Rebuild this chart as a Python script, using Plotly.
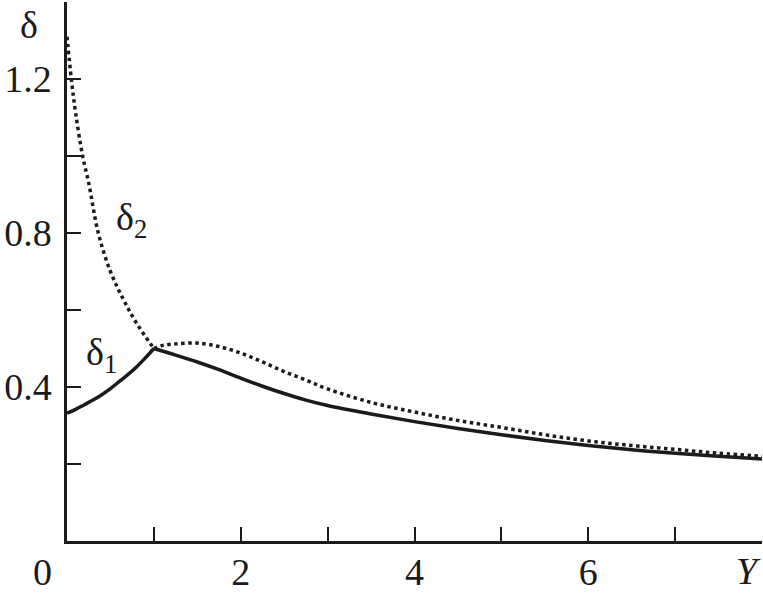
import plotly.graph_objects as go

# delta_1 (solid)
d1_x = [0, 0.1, 0.2, 0.3, 0.4, 0.5, 0.6, 0.7, 0.8, 0.9, 1.0, 1.25, 1.5, 1.75, 2.0,
        2.25, 2.5, 2.75, 3.0, 3.5, 4.0, 4.5, 5.0, 5.5, 6.0, 6.5, 7.0, 7.5, 8.0]
d1_y = [0.332, 0.342, 0.354, 0.366, 0.38, 0.396, 0.414, 0.432, 0.452, 0.475, 0.50,
        0.483, 0.465, 0.445, 0.423, 0.402, 0.383, 0.366, 0.352, 0.33, 0.31, 0.292,
        0.276, 0.261, 0.248, 0.237, 0.228, 0.22, 0.213]

# delta_2 (dotted)
d2_x = [0, 0.05, 0.1, 0.18, 0.25, 0.36, 0.5, 0.65, 0.8, 1.0, 1.1, 1.25, 1.5, 1.75,
        2.0, 2.25, 2.5, 2.75, 3.0, 3.5, 4.0, 4.5, 5.0, 5.5, 6.0, 6.5, 7.0, 7.5, 8.0]
d2_y = [1.31, 1.2, 1.11, 1.0, 0.93, 0.80, 0.70, 0.627, 0.566, 0.50, 0.508, 0.512,
        0.514, 0.505, 0.488, 0.465, 0.44, 0.418, 0.395, 0.36, 0.335, 0.313, 0.295,
        0.276, 0.26, 0.248, 0.238, 0.228, 0.22]

x_tickvals = [0, 1, 2, 3, 4, 5, 6, 7, 8]
x_ticktext = ["", "", "2", "", "4", "", "6", "", ""]
y_tickvals = [0.2, 0.4, 0.6, 0.8, 1.0, 1.2, 1.4]
y_ticktext = ["", "0.4", "", "0.8", "", "1.2", ""]

ink = "#1c1a1b"
font = dict(family="Liberation Serif, Times New Roman, serif", size=38, color=ink)

# split each curve at the cusp (x = 1) so the kink stays sharp
k1 = d1_x.index(1.0)
k2 = d2_x.index(1.0)

fig = go.Figure()
for xs, ys in [(d1_x[:k1 + 1], d1_y[:k1 + 1]), (d1_x[k1:], d1_y[k1:])]:
    fig.add_trace(go.Scatter(x=xs, y=ys, mode="lines",
                             line=dict(color=ink, width=3.5, shape="spline", smoothing=1.0),
                             showlegend=False))
for xs, ys in [(d2_x[:k2 + 1], d2_y[:k2 + 1]), (d2_x[k2:], d2_y[k2:])]:
    fig.add_trace(go.Scatter(x=xs, y=ys, mode="lines",
                             line=dict(color=ink, width=3.5, dash="3.5px,3.5px",
                                       shape="spline", smoothing=1.0),
                             showlegend=False))

fig.add_annotation(x=0.74, y=0.835, text="δ<sub>2</sub>", showarrow=False, font=font)
fig.add_annotation(x=0.40, y=0.483, text="δ<sub>1</sub>", showarrow=False, font=font)
fig.add_annotation(x=0, y=1.34, xref="paper", yref="y", text="δ", showarrow=False,
                   font=font, xanchor="right", yanchor="middle", xshift=-27)
fig.add_annotation(x=0, y=0, xref="x", yref="y", text="0", showarrow=False,
                   font=font, xanchor="center", yanchor="middle", xshift=-25, yshift=-31)
fig.add_annotation(x=8, y=0, xref="x", yref="y", text="<i>Y</i>", showarrow=False,
                   font=font, xanchor="right", yanchor="middle", xshift=1, yshift=-30)

fig.update_layout(
    width=763, height=599,
    margin=dict(l=67, r=1, t=2, b=58, autoexpand=False),
    paper_bgcolor="white", plot_bgcolor="white",
    font=font,
)
fig.update_xaxes(range=[0, 8], tickvals=x_tickvals, ticktext=x_ticktext,
                 ticks="inside", ticklen=14, tickwidth=2, tickcolor=ink,
                 showline=True, linewidth=2.5, linecolor=ink, showgrid=False,
                 zeroline=False, ticklabelstandoff=-4, automargin=False)
fig.update_yaxes(range=[0, 1.4], tickvals=y_tickvals, ticktext=y_ticktext,
                 ticks="inside", ticklen=14, tickwidth=2, tickcolor=ink,
                 showline=True, linewidth=2.5, linecolor=ink, showgrid=False,
                 zeroline=False, ticklabelstandoff=5, automargin=False)

fig.write_html("out.html", config={"displayModeBar": False},
               post_script="document.body.style.margin='0';")
